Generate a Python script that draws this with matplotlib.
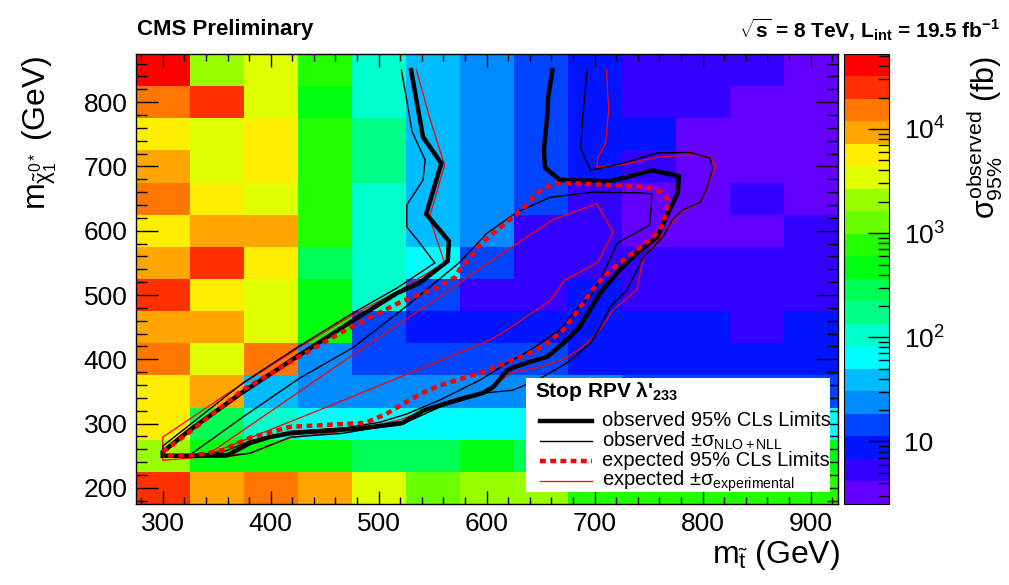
import colorsys
import numpy as np
import matplotlib
matplotlib.use("Agg")
import matplotlib.pyplot as plt
from matplotlib.colors import ListedColormap, LogNorm
from matplotlib.lines import Line2D
from matplotlib.patches import Rectangle
from matplotlib.ticker import MultipleLocator, FixedLocator, FixedFormatter, LogLocator, NullFormatter

plt.rcParams["font.family"] = ["Liberation Sans", "DejaVu Sans"]
plt.rcParams["mathtext.fontset"] = "custom"
plt.rcParams["mathtext.rm"] = "Liberation Sans"
plt.rcParams["mathtext.it"] = "Liberation Sans"
plt.rcParams["mathtext.bf"] = "Liberation Sans:bold"

# ---------------- data ----------------
m_stop = [300, 350, 400, 450, 500, 550, 600, 650, 700, 750, 800, 850, 900]
m_chi = [200, 250, 300, 350, 400, 450, 500, 550, 600, 650, 700, 750, 800, 850]

# observed 95% CL upper limit on the cross section (fb), rows follow m_chi
xsec_200 = [25000, 9200, 15000, 9200, 3400, 1260, 2100, 2100, 770, 770, 770, 770, 770]
xsec_250 = [2100, 470, 470, 470, 280, 280, 470, 280, 470, 470, 470, 470, 470]
xsec_300 = [5600, 280, 105, 64, 64, 64, 64, 64, 64, 64, 64, 64, 64]
xsec_350 = [5600, 9200, 39, 24, 24, 24, 24, 24, 24, 14, 14, 14, 14]
xsec_400 = [15000, 3400, 15000, 24, 14, 14, 14, 14, 8.7, 8.7, 8.7, 8.7, 8.7]
xsec_450 = [9200, 9200, 3400, 470, 14, 8.7, 8.7, 8.7, 8.7, 8.7, 8.7, 5.3, 8.7]
xsec_500 = [25000, 5600, 3400, 470, 105, 14, 5.3, 5.3, 8.7, 5.3, 5.3, 5.3, 5.3]
xsec_550 = [9200, 25000, 5600, 280, 105, 64, 14, 5.3, 5.3, 5.3, 5.3, 5.3, 5.3]
xsec_600 = [5600, 9200, 9200, 770, 105, 39, 24, 5.3, 5.3, 3.2, 3.2, 3.2, 5.3]
xsec_650 = [15000, 5600, 3400, 770, 105, 39, 24, 14, 5.3, 3.2, 3.2, 5.3, 3.2]
xsec_700 = [9200, 3400, 5600, 770, 170, 39, 24, 14, 8.7, 5.3, 3.2, 3.2, 3.2]
xsec_750 = [5600, 3400, 5600, 770, 170, 39, 24, 14, 8.7, 8.7, 3.2, 3.2, 3.2]
xsec_800 = [15000, 25000, 3400, 470, 105, 39, 24, 14, 8.7, 5.3, 5.3, 3.2, 3.2]
xsec_850 = [41000, 2100, 3400, 770, 105, 39, 24, 14, 8.7, 5.3, 5.3, 5.3, 3.2]

# observed limit contour
obs_x = [530, 541, 558, 544, 565, 564, 538, 517, 473, 424, 374, 325, 300, 300, 325, 360,
         381, 399, 418, 485, 522, 541, 563, 582, 597, 606, 619, 624, 640, 656, 671, 686,
         705, 723, 739, 758, 768, 777, 778, 753, 733, 714, 668, 654, 653, 656, 657, 661]
obs_y = [850, 746, 705, 626, 584, 553, 519, 503, 457, 404, 349, 290, 256, 250, 250, 251,
         270, 279, 285, 293, 301, 320, 332, 341, 348, 357, 383, 387, 396, 404, 425, 450,
         503, 539, 565, 590, 628, 659, 685, 694, 685, 677, 679, 698, 726, 777, 808, 850]

# observed +/- sigma(theory) contours
obs_up_x = [521, 526, 531, 543, 541, 526, 526, 538, 552, 517, 473, 424, 374, 300, 300, 356,
            381, 418, 467, 495, 520, 557, 600, 624, 647, 674, 696, 705, 714, 730, 745, 763,
            772, 781, 798, 804, 809, 807, 788, 758, 726, 696, 687, 689, 693]
obs_up_y = [850, 803, 754, 710, 679, 640, 606, 581, 550, 511, 469, 418, 363, 265, 249, 248,
            254, 279, 285, 293, 298, 326, 348, 352, 368, 394, 425, 450, 481, 508, 559, 590,
            617, 632, 645, 668, 694, 713, 722, 721, 705, 694, 729, 777, 850]
obs_dn_x = [325, 374, 427, 476, 526, 575, 600, 628, 659, 698, 742, 753, 751, 721, 708, 696,
            686, 668, 640, 619, 594, 557, 526, 501, 467, 418, 381, 356, 325]
obs_dn_y = [251, 310, 371, 418, 483, 551, 596, 629, 652, 660, 659, 657, 609, 581, 534, 497,
            484, 446, 414, 394, 368, 337, 315, 302, 293, 288, 273, 256, 251]

# expected limit contour
exp_x = [300, 325, 374, 424, 473, 520, 554, 571, 575, 585, 594, 606, 624, 637, 647, 661,
         680, 717, 748, 762, 768, 767, 762, 754, 739, 723, 708, 698, 680, 671, 656, 640,
         624, 594, 573, 557, 541, 526, 510, 495, 485, 418, 381, 356, 332, 300]
exp_y = [256, 287, 352, 402, 449, 489, 512, 528, 540, 558, 578, 596, 621, 640, 659, 673,
         674, 671, 668, 660, 648, 632, 606, 590, 570, 550, 528, 508, 466, 446, 425, 410,
         399, 379, 368, 360, 348, 334, 318, 306, 301, 295, 278, 259, 251, 250]

# expected +/- sigma(experimental) contours
exp_up_x = [535, 547, 561, 547, 561, 547, 520, 473, 427, 362, 300, 300, 381, 418, 485, 520,
            573, 597, 624, 649, 674, 693, 705, 717, 739, 745, 767, 779, 798, 805, 812, 807,
            790, 760, 723, 702, 703, 710, 713, 712, 711]
exp_up_y = [850, 777, 702, 621, 550, 536, 508, 466, 419, 349, 279, 243, 254, 278, 292, 306,
            340, 348, 380, 388, 402, 425, 446, 477, 508, 559, 601, 628, 645, 671, 702, 715,
            718, 715, 702, 699, 715, 736, 788, 816, 850]
exp_dn_x = [341, 464, 603, 619, 659, 672, 703, 717, 702, 661, 594, 566, 476, 341]
exp_dn_y = [251, 334, 430, 446, 492, 523, 551, 598, 642, 617, 542, 508, 407, 251]

# ---------------- palette (20 levels, violet -> red) ----------------
n_levels = 20
hues = [280 - 5.6 * (int((k + 0.99) * 50 / n_levels) + 1) for k in range(n_levels)]
palette = ListedColormap([colorsys.hls_to_rgb(h / 360.0, 0.5, 1.0) for h in hues])
norm = LogNorm(vmin=10 ** 0.4, vmax=10 ** 4.72)

fig = plt.figure(figsize=(10.09, 5.85), dpi=100)
ax = fig.add_axes([0.1345, 0.1385, 0.6957, 0.7692])
cax = fig.add_axes([0.8365, 0.1385, 0.0446, 0.7692])

xsec = np.array([xsec_200, xsec_250, xsec_300, xsec_350, xsec_400, xsec_450, xsec_500,
                 xsec_550, xsec_600, xsec_650, xsec_700, xsec_750, xsec_800, xsec_850])
xs = np.array(m_stop, dtype=float)
ys = np.array(m_chi, dtype=float)
half_x = (xs[1] - xs[0]) / 2
half_y = (ys[1] - ys[0]) / 2
x_edges = np.append(xs - half_x, xs[-1] + half_x)
y_edges = np.append(ys - half_y, ys[-1] + half_y)
mesh = ax.pcolormesh(x_edges, y_edges, xsec, cmap=palette, norm=norm, shading="flat")

dash = (1.3, 1.0)
ax.plot(exp_up_x, exp_up_y, color="#ff0000", lw=0.9)
ax.plot(exp_dn_x, exp_dn_y, color="#ff0000", lw=0.9)
ax.plot(obs_up_x, obs_up_y, color="black", lw=1.0)
ax.plot(obs_dn_x, obs_dn_y, color="black", lw=1.0)
ax.plot(obs_x, obs_y, color="black", lw=3.2, solid_joinstyle="miter")
ax.plot(exp_x, exp_y, color="#ff0000", lw=3.2, dashes=dash)

ax.set_xlim(x_edges[0], x_edges[-1])
ax.set_ylim(y_edges[0], y_edges[-1])

ax.xaxis.set_major_locator(MultipleLocator(100))
ax.xaxis.set_minor_locator(MultipleLocator(20))
ax.yaxis.set_major_locator(MultipleLocator(100))
ax.yaxis.set_minor_locator(MultipleLocator(20))
ax.tick_params(which="both", direction="in", top=True, right=True, width=1.0,
               labelsize=19, colors="black")
ax.tick_params(axis="x", which="major", length=9.5, pad=6)
ax.tick_params(axis="x", which="minor", length=4.8)
ax.tick_params(axis="y", which="major", length=16, pad=6)
ax.tick_params(axis="y", which="minor", length=8)
for s in ax.spines.values():
    s.set_linewidth(1.0)

# colour scale
cb = fig.colorbar(mesh, cax=cax)
cb.outline.set_linewidth(0.8)
cax.yaxis.set_major_locator(FixedLocator([10, 100, 1000, 10000]))
cax.yaxis.set_major_formatter(FixedFormatter(["10", "$10^2$", "$10^3$", "$10^4$"]))
cax.yaxis.set_minor_locator(LogLocator(base=10, subs=np.arange(2, 10)))
cax.yaxis.set_minor_formatter(NullFormatter())
cax.tick_params(which="both", direction="in", right=True, left=False, width=1.0,
                labelsize=19)
cax.tick_params(which="major", length=15, pad=11)
cax.tick_params(which="minor", length=8)

# axis titles
fig.text(0.8325, 0.037, r"$m_{\tilde{t}}$ (GeV)", ha="right", va="baseline", fontsize=23)
fig.text(0.04, 0.905, r"$m_{\tilde{\chi}^{0*}_{1}}$ (GeV)", ha="center", va="top",
         rotation=90, fontsize=23)
fig.text(0.976, 0.905, r"$\sigma^{\mathrm{observed}}_{95\%}$ (fb)", ha="center", va="top",
         rotation=90, fontsize=22)

# header
fig.text(0.1358, 0.949, "CMS Preliminary", ha="left", va="center", fontsize=16,
         fontweight="bold")
fig.text(0.991, 0.949, r"$\mathbf{\sqrt{s}}$ = 8 TeV, L$_{\mathbf{int}}$ = 19.5 fb$^{\mathbf{-1}}$",
         ha="right", va="center", fontsize=15, fontweight="bold")

# legend
ax.add_patch(Rectangle((0.556, 0.027), 0.433, 0.253, transform=ax.transAxes,
                       facecolor="white", edgecolor="none", zorder=5))
ax.text(0.569, 0.250, "Stop RPV \u03bb'$_{\\mathbf{233}}$", transform=ax.transAxes,
        fontsize=15, fontweight="bold", ha="left", va="center", zorder=6)
rows = [
    (0.185, dict(color="black", lw=3.2), "observed 95% CLs Limits"),
    (0.140, dict(color="black", lw=1.0), r"observed $\pm\sigma_{\mathrm{NLO+NLL}}$"),
    (0.096, dict(color="#ff0000", lw=3.2, dashes=dash), "expected 95% CLs Limits"),
    (0.051, dict(color="#ff0000", lw=0.9), r"expected $\pm\sigma_{\mathrm{experimental}}$"),
]
for yy, style, label in rows:
    ax.add_line(Line2D([0.576, 0.650], [yy, yy], transform=ax.transAxes, zorder=6, **style))
    ax.text(0.664, yy, label, transform=ax.transAxes, fontsize=14.5, ha="left",
            va="center", zorder=6)

fig.savefig("out.png", dpi=100)
